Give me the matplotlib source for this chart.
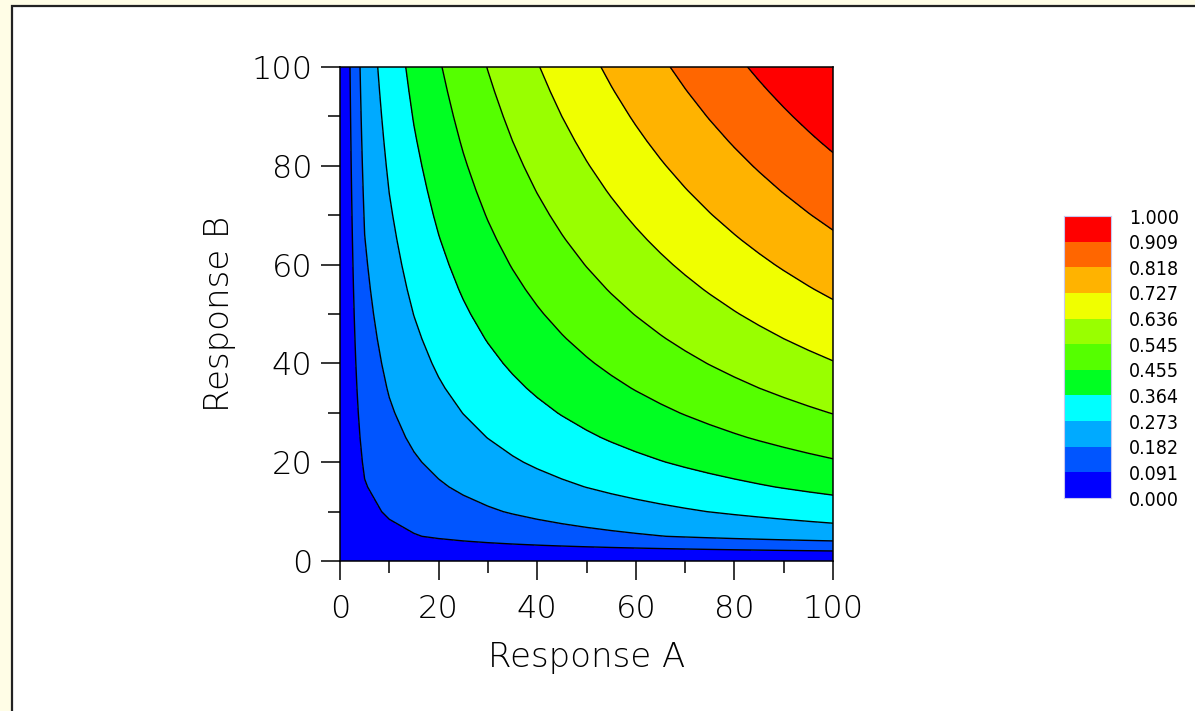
import numpy as np
import matplotlib
matplotlib.use("Agg")
import matplotlib.pyplot as plt
from matplotlib.colors import ListedColormap, BoundaryNorm
from matplotlib.patches import Rectangle

# ---- data ----
response_a = np.arange(0, 101, 5)          # grid of Response A values
response_b = np.arange(0, 101, 5)          # grid of Response B values
levels = [0.000, 0.0909, 0.1818, 0.2727, 0.3636, 0.4545, 0.5455,
          0.6364, 0.7273, 0.8182, 0.9091, 1.000]
level_labels = ["0.000", "0.091", "0.182", "0.273", "0.364", "0.455",
                "0.545", "0.636", "0.727", "0.818", "0.909", "1.000"]
band_colors = ["#0000FF", "#0055FF", "#00AAFF", "#00FFFF", "#00FF22",
               "#55FF00", "#99FF00", "#F0FF00", "#FFB300", "#FF6600",
               "#FF0000"]
x_ticks = [0, 20, 40, 60, 80, 100]
y_ticks = [0, 20, 40, 60, 80, 100]

# overall desirability = geometric mean of the individual desirabilities
A, B = np.meshgrid(response_a, response_b)
D = np.sqrt((A / 100.0) * (B / 100.0))

fig = plt.figure(figsize=(11.95, 7.11), dpi=100)
fig.patch.set_facecolor("#FFFDE6")
panel = Rectangle((12 / 1195, -0.05), 1.1, 1 - 6 / 711 + 0.05,
                  transform=fig.transFigure, facecolor="white",
                  edgecolor="#222222", linewidth=1.6, zorder=-10)
fig.patches.append(panel)

ax = fig.add_axes([340 / 1195, 150 / 711, 493 / 1195, 494 / 711])
cmap = ListedColormap(band_colors)
norm = BoundaryNorm(levels, cmap.N)
cf = ax.contourf(A, B, D, levels=levels, cmap=cmap, norm=norm)
ax.contour(A, B, D, levels=levels[1:-1], colors="black", linewidths=1.0)

ax.set_xlim(0, 100)
ax.set_ylim(0, 100)
ax.set_xticks(x_ticks)
ax.set_yticks(y_ticks)
ax.set_xticks(np.arange(10, 100, 20), minor=True)
ax.set_yticks(np.arange(10, 100, 20), minor=True)

tick_font = dict(family="DejaVu Sans", weight="ultralight", size=23)
label_font = dict(family="DejaVu Sans", weight="ultralight", size=24.5)
ax.set_xticklabels([str(v) for v in x_ticks], fontdict=tick_font)
ax.set_yticklabels([str(v) for v in y_ticks], fontdict=tick_font)
ax.tick_params(which="major", direction="out", length=14, width=1.1,
               color="black")
ax.tick_params(which="minor", direction="out", length=8.5, width=1.1,
               color="black")
ax.tick_params(axis="x", which="major", pad=10)
ax.tick_params(axis="y", which="major", pad=6)
for s in ax.spines.values():
    s.set_linewidth(1.1)
    s.set_color("black")

ax.set_xlabel("Response A", fontdict=label_font, labelpad=12)
ax.set_ylabel("Response B", fontdict=label_font, labelpad=11)

# legend colour bar
cax = fig.add_axes([1064 / 1195, 213 / 711, 47 / 1195, 282 / 711])
for i, c in enumerate(band_colors):
    cax.barh(i, 1, height=1, left=0, color=c, align="edge")
cax.set_xlim(0, 1)
cax.set_ylim(0, len(band_colors))
cax.set_xticks([])
cax.yaxis.tick_right()
cax.set_yticks(range(len(level_labels)))
cax.set_yticklabels(level_labels, family="DejaVu Sans", stretch="condensed",
                    size=14)
cax.tick_params(axis="y", length=0, pad=13)
for s in cax.spines.values():
    s.set_color("#C8C8F0")
    s.set_linewidth(0.8)

fig.savefig("out.png", dpi=100, facecolor=fig.get_facecolor())
